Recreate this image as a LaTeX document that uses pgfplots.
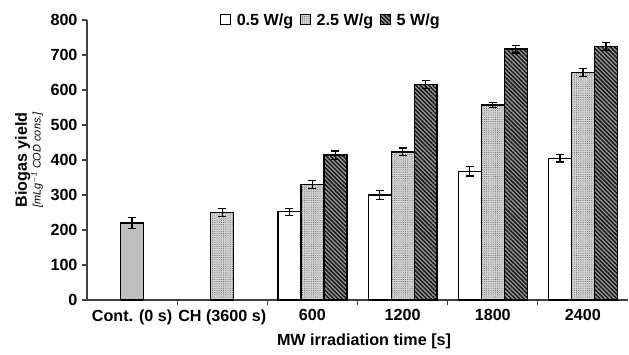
\documentclass[border=0pt]{standalone}
\usepackage{pgfplots}
\pgfplotsset{compat=1.18}
\usepackage{fontspec}
\setmainfont{Liberation Sans}
\usetikzlibrary{patterns,patterns.meta}
\definecolor{axgray}{gray}{0.25}
\tikzset{
  dotfill/.style={fill=white!82!black, postaction={pattern={Dots[distance=2.2pt,radius=0.45pt]}, pattern color=black!70}},
  hatchfill/.style={fill=white!60!black, postaction={pattern={Lines[angle=-45,distance=3pt,line width=1.5pt]}, pattern color=black!90}},
}
\begin{document}
\begin{tikzpicture}
\begin{axis}[
  scale only axis,
  width=541bp, height=280bp,
  xmin=-0.5, xmax=5.5,
  ymin=0, ymax=800,
  clip=false,
  axis x line*=bottom, axis y line*=left,
  axis line style={axgray, line width=1.4pt},
  xtick={0,1,2,3,4,5},
  xticklabels={Cont. (0 s),CH (3600 s),600,1200,1800,2400},
  minor xtick={0.5,1.5,2.5,3.5,4.5},
  ytick={0,100,...,800},
  tick align=outside,
  major tick length=5bp,
  minor tick length=5bp,
  x tick style={draw=none},
  minor x tick style={draw=axgray, line width=1.2pt},
  y tick style={axgray, line width=1.2pt},
  /pgf/number format/assume math mode=true,
  tick label style={font=\fontsize{16.2}{19}\selectfont\bfseries},
  yticklabel style={xshift=-1bp},
  xticklabel style={yshift=-1bp},
  every axis x label/.style={at={(rel axis cs:0.512,-0.148)}, anchor=center, font=\fontsize{16.2}{19}\selectfont\bfseries},
  xlabel={MW irradiation time [s]},
  every axis y label/.style={at={(rel axis cs:-0.107,0.5)}, rotate=90, anchor=center, align=center},
  ylabel={{\fontsize{16.2}{16}\selectfont\bfseries Biogas yield}\\[0bp]{\fontsize{11}{11}\selectfont\itshape [mLg$^{\mathit{-1}}$ COD cons.]}},
  legend style={at={(rel axis cs:0.451,1.0)}, anchor=center, draw=none, fill=none,
     font=\fontsize{16.2}{19}\selectfont\bfseries, legend columns=3,
     /tikz/every even column/.append style={column sep=5bp}},
  legend image code/.code={\draw[#1, line width=1pt] (0bp,-5bp) rectangle (10bp,5bp);},
  bar width=0.255,
]
% control and chemical
\addplot[ybar, bar shift=0, draw=black, line width=1.2pt, fill=white!75!black, forget plot] coordinates {(0,220)};
\addplot[ybar, bar shift=0, draw=black, line width=1.2pt, dotfill, forget plot] coordinates {(1,250)};
% MW series
\addplot[ybar, bar shift=-0.255, draw=black, line width=1.2pt, fill=white] coordinates {(2,252) (3,300) (4,368) (5,405)};
\addlegendentry{\hspace{3.5bp}0.5 W/g}
\addplot[ybar, bar shift=0, draw=black, line width=1.2pt, dotfill] coordinates {(2,330) (3,423) (4,557) (5,650)};
\addlegendentry{\hspace{3.5bp}2.5 W/g}
\addplot[ybar, bar shift=0.255, draw=black, line width=1.2pt, hatchfill] coordinates {(2,414) (3,616) (4,717) (5,724)};
\addlegendentry{\hspace{3.5bp}5 W/g}
% error bars
\addplot[draw=none, mark=none, forget plot,
  error bars/.cd, y dir=both, y explicit,
  error bar style={black, line width=1.3pt},
  error mark options={rotate=90, mark size=4bp, line width=1.3pt, black}]
  coordinates {
  (0,220) +- (0,15)
  (1,250) +- (0,12)
  (1.745,252) +- (0,10)
  (2.745,300) +- (0,13)
  (3.745,368) +- (0,14)
  (4.745,405) +- (0,11)
  (2,330) +- (0,11)
  (3,423) +- (0,11)
  (4,557) +- (0,8)
  (5,650) +- (0,11)
  (2.255,414) +- (0,12)
  (3.255,616) +- (0,11)
  (4.255,717) +- (0,11)
  (5.255,724) +- (0,11)
  };
\path (rel axis cs:-0.1608,-0.1929) rectangle (rel axis cs:1.0018,1.0714);
\end{axis}
\end{tikzpicture}
\end{document}
